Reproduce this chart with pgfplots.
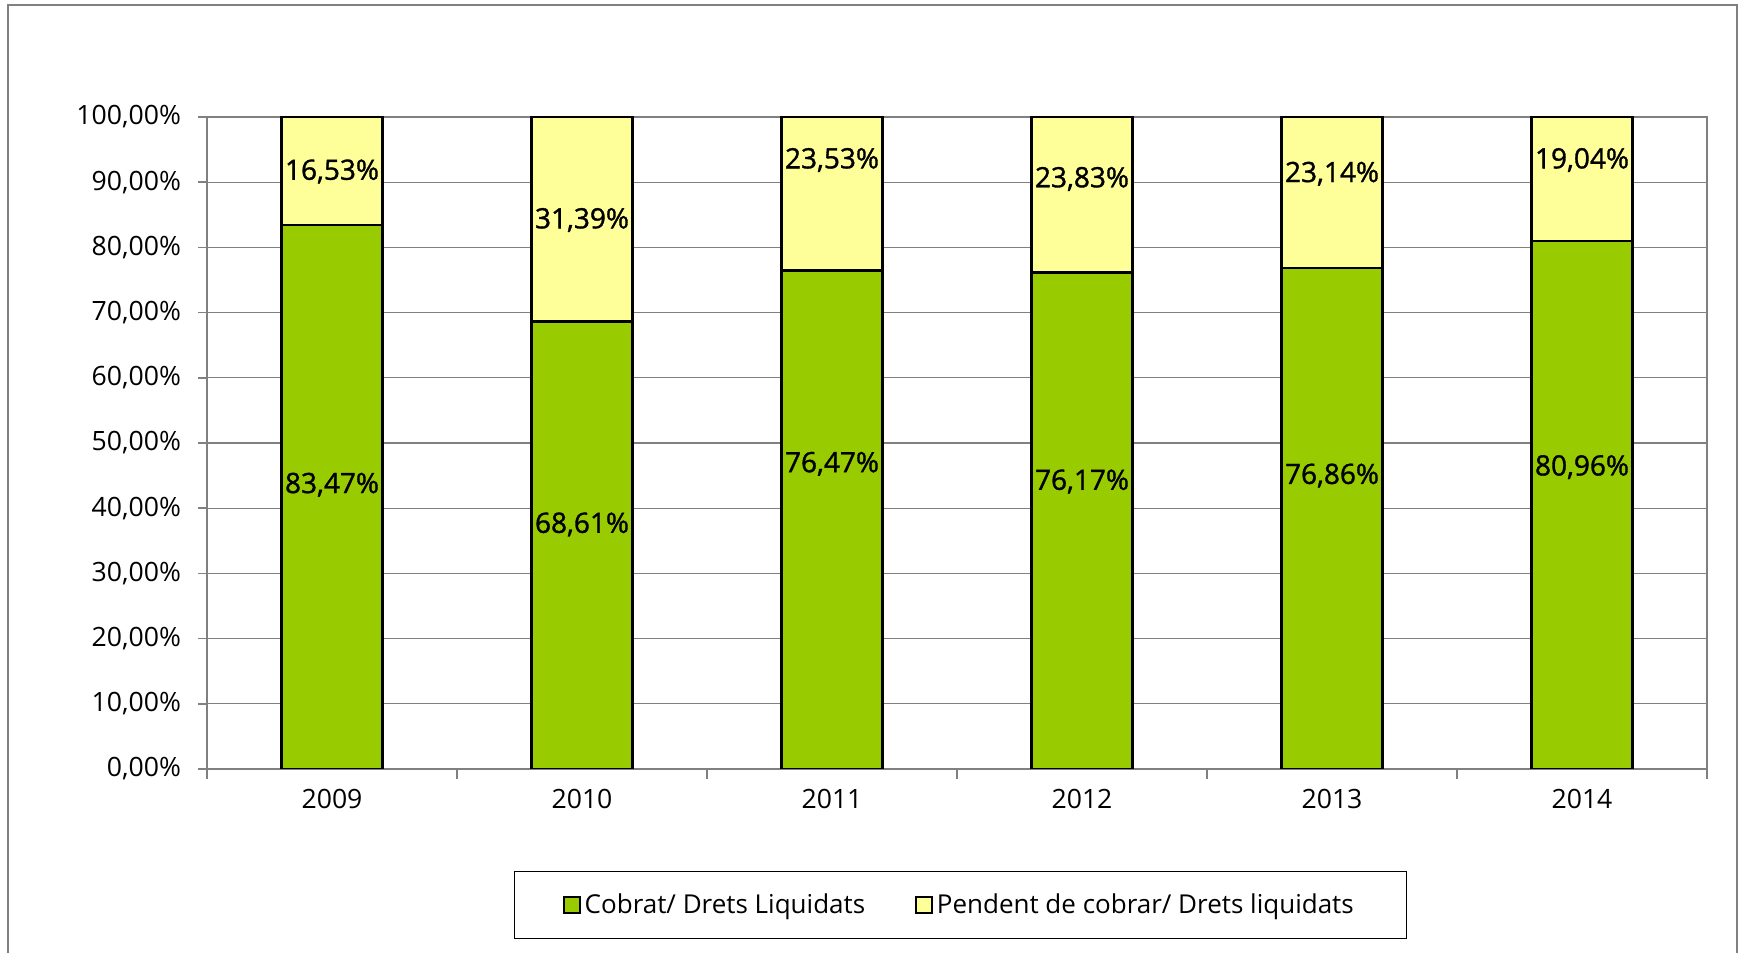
\documentclass[border=0pt]{standalone}
\usepackage{fontspec}
\setmainfont{Open Sans}
\newfontfamily\labelfont[FakeBold=1.2]{Open Sans}
\usepackage{pgfplots}
\pgfplotsset{compat=1.18}
\definecolor{cobrat}{HTML}{99CC00}
\definecolor{pendent}{HTML}{FFFF99}
\definecolor{framegray}{HTML}{808080}

\pgfplotsset{
  chartarea/.style={
    at={(103.5pt,92pt)}, anchor=south west,
    width=750pt, height=326pt, scale only axis,
    xmin=-0.5, xmax=5.5, ymin=0, ymax=100,
  },
}

\begin{document}
\begin{tikzpicture}[x=0.5pt,y=0.5pt]
\path[use as bounding box] (0,0) rectangle (1741,953);
% outer chart frame (bottom edge is cut off in the original)
\draw[framegray, line width=1pt] (8,-10) -- (8,948) -- (1737,948) -- (1737,-10);
\begin{axis}[
  chartarea,
  ybar stacked, bar width=50.5pt,
  xtick={0,...,5},
  xticklabels={2009,2010,2011,2012,2013,2014},
  major x tick style={draw=none},
  minor xtick={-0.5,0.5,...,5.5},
  ytick={0,10,...,100},
  yticklabels={{0,00\%},{10,00\%},{20,00\%},{30,00\%},{40,00\%},{50,00\%},{60,00\%},{70,00\%},{80,00\%},{90,00\%},{100,00\%}},
  tick pos=left, tick align=outside,
  major tick length=4.5pt, minor tick length=5pt,
  ymajorgrids, grid style={framegray, line width=0.6pt},
  axis line style={framegray, line width=0.8pt},
  tick style={framegray, line width=0.8pt},
  ticklabel style={font=\fontsize{13.3}{16}\selectfont},
  yticklabel style={xshift=-5pt},
  xticklabel style={yshift=-2.2pt},
  legend style={at={(0.5023,-0.2086)}, anchor=center, draw=black, line width=0.6pt,
    legend columns=2, font=\fontsize{13}{16}\selectfont,
    inner xsep=24.5pt, inner ysep=9pt,
    /tikz/every even column/.append style={column sep=23pt}},
  legend image code/.code={\draw[#1, line width=0.8pt] (0pt,-4pt) rectangle (8pt,4pt);},
]
\addplot[fill=cobrat, draw=black, line width=1.2pt] coordinates {
  (0,83.47) (1,68.61) (2,76.47) (3,76.17) (4,76.86) (5,80.96)
};
\addlegendentry{Cobrat/ Drets Liquidats}
\addplot[fill=pendent, draw=black, line width=1.2pt] coordinates {
  (0,16.53) (1,31.39) (2,23.53) (3,23.83) (4,23.14) (5,19.04)
};
\addlegendentry{Pendent de cobrar/ Drets liquidats}
\end{axis}

% data labels, at the heights where the original puts them
\begin{axis}[chartarea, hide axis]
\addplot[only marks, mark=none, nodes near coords, point meta=explicit symbolic,
  every node near coord/.style={anchor=center, inner sep=0pt, text=black,
    font=\labelfont\fontsize{14}{16}\selectfont}]
  coordinates {
  (0,43.6) [{83,47\%}]  (0,91.65) [{16,53\%}]
  (1,37.5) [{68,61\%}]  (1,84.2) [{31,39\%}]
  (2,46.8) [{76,47\%}]  (2,93.4) [{23,53\%}]
  (3,44.1) [{76,17\%}]  (3,90.5) [{23,83\%}]
  (4,45.0) [{76,86\%}]  (4,91.3) [{23,14\%}]
  (5,46.3) [{80,96\%}]  (5,93.4) [{19,04\%}]
};
\end{axis}
\end{tikzpicture}
\end{document}
